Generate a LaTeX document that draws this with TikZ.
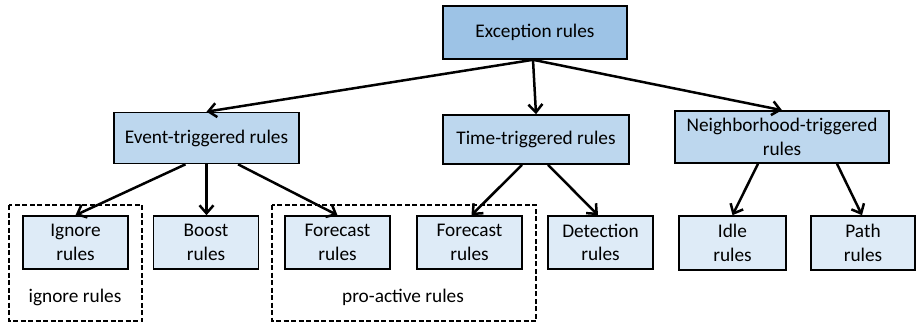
\documentclass[tikz,border=0pt]{standalone}
\usepackage{fontspec}
\setmainfont{Carlito}
\usetikzlibrary{arrows.meta}
\definecolor{topblue}{HTML}{9DC3E6}
\definecolor{midblue}{HTML}{BDD7EE}
\definecolor{lowblue}{HTML}{DEEBF7}
\tikzset{
  box/.style={draw=black, line width=1.6pt, rectangle, inner sep=0pt, align=center,
    font=\fontsize{19.3}{23.5}\selectfont},
  topbox/.style={box, fill=topblue},
  midbox/.style={box, fill=midblue},
  leafbox/.style={box, fill=lowblue, minimum width=105pt, minimum height=53pt},
  arr/.style={line width=2.5pt, -{Straight Barb[length=8pt,width=14pt,line width=2.5pt]}},
  group/.style={draw=black, line width=2.6pt, dash pattern=on 5pt off 2.5pt},
  grouplabel/.style={font=\fontsize{19.3}{23}\selectfont}
}
\begin{document}
\begin{tikzpicture}[x=1pt,y=-1pt]
\useasboundingbox (0,0) rectangle (916,325);

% dashed groupings
\draw[group] (9,205) rectangle (142,321);
\draw[group] (272,205) rectangle (536,321);
\node[grouplabel] (lig) at (75,297) {ignore rules};
\node[grouplabel] (lpa) at (403,297) {pro-active rules};

% root
\node[topbox, minimum width=184pt, minimum height=53pt] (exc) at (535,32.5) {Exception rules};

% second level
\node[midbox, minimum width=185pt, minimum height=51pt] (evt) at (206.5,138) {Event-triggered rules};
\node[midbox, minimum width=186pt, minimum height=49pt] (tim) at (536,139.5) {Time-triggered rules};
\node[midbox, minimum width=214pt, minimum height=52pt] (nbr) at (782,137) {Neighborhood-triggered\\rules};

% leaves
\node[leafbox] (ign) at (75.5,242.5) {Ignore\\rules};
\node[leafbox] (bst) at (206,242.5) {Boost\\rules};
\node[leafbox] (fc1) at (337.5,242.5) {Forecast\\rules};
\node[leafbox] (fc2) at (469.5,242.5) {Forecast\\rules};
\node[leafbox] (det) at (600.5,242.5) {Detection\\rules};
\node[leafbox, minimum width=107pt, minimum height=54pt] (idl) at (732.5,243) {Idle\\rules};
\node[leafbox, minimum width=104pt, minimum height=54pt] (pth) at (863,243) {Path\\rules};

% connectors
\draw[arr] ([xshift=-2pt]exc.south) -- (evt.north);
\draw[arr] ([xshift=-2pt]exc.south) -- (tim.north);
\draw[arr] ([xshift=-2pt]exc.south) -- (nbr.north);

\draw[arr] ([xshift=-21pt]evt.south) -- (ign.north);
\draw[arr] (evt.south) -- ([xshift=0.5pt]bst.north);
\draw[arr] ([xshift=31.5pt]evt.south) -- (fc1.north);

\draw[arr] ([xshift=-14pt]tim.south) -- ([xshift=2pt]fc2.north);
\draw[arr] ([xshift=12pt]tim.south) -- ([xshift=-2.5pt]det.north);

\draw[arr] ([xshift=-24pt]nbr.south) -- (idl.north);
\draw[arr] ([xshift=55pt]nbr.south) -- ([xshift=-1pt]pth.north);
\end{tikzpicture}
\end{document}
